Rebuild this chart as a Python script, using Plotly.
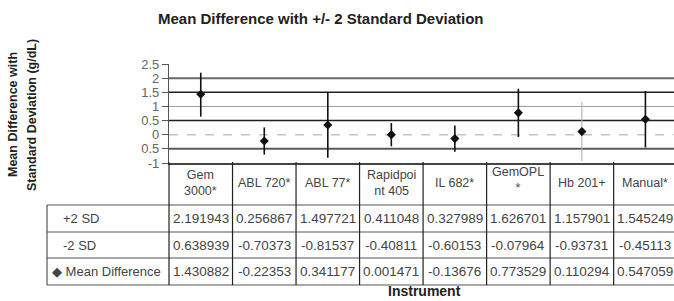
import plotly.graph_objects as go

# ---- data ----
instruments = ["Gem 3000*", "ABL 720*", "ABL 77*", "Rapidpoint 405", "IL 682*", "GemOPL*", "Hb 201+", "Manual*"]
header_labels = ["Gem<br>3000*", "ABL 720*", "ABL 77*", "Rapidpoi<br>nt 405", "IL 682*", "GemOPL<br>*", "Hb 201+", "Manual*"]
plus_2sd = [2.191943, 0.256867, 1.497721, 0.411048, 0.327989, 1.626701, 1.157901, 1.545249]
minus_2sd = [0.638939, -0.70373, -0.81537, -0.40811, -0.60153, -0.07964, -0.93731, -0.45113]
mean_diff = [1.430882, -0.22353, 0.341177, 0.001471, -0.13676, 0.773529, 0.110294, 0.547059]
plus_txt = ["2.191943", "0.256867", "1.497721", "0.411048", "0.327989", "1.626701", "1.157901", "1.545249"]
minus_txt = ["0.638939", "-0.70373", "-0.81537", "-0.40811", "-0.60153", "-0.07964", "-0.93731", "-0.45113"]
mean_txt = ["1.430882", "-0.22353", "0.341177", "0.001471", "-0.13676", "0.773529", "0.110294", "0.547059"]
row_labels = ["+2 SD", "-2 SD", "\u25c6 Mean Difference"]
ref_levels = [2, 1.5, 1, 0.5, 0, -0.5]
y_ticks = [2.5, 2, 1.5, 1, 0.5, 0, -0.5, -1]
y_tick_text = ["2.5", "2", "1.5", "1", "0.5", "0", "0.5", "-1"]
title_text = "Mean Difference with +/- 2 Standard Deviation"
y_title_lines = ["Mean Difference with", "Standard Deviation (g/dL)"]
x_title = "Instrument"

# ---- styles ----
ref_styles = [
    dict(color="#6a6a6a", width=2, dash="solid"),
    dict(color="#202020", width=1.5, dash="solid"),
    dict(color="#9a9a9a", width=1, dash="solid"),
    dict(color="#202020", width=1.5, dash="solid"),
    dict(color="#c4c4c4", width=1.5, dash="dash"),
    dict(color="#5a5a5a", width=2, dash="solid"),
]
FONT = "Liberation Sans, Arial, sans-serif"
TXT = "#444444"

fig = go.Figure()

# error bars as vertical segments
for i, name in enumerate(instruments):
    col = "#aaaaaa" if name == "Hb 201+" else "#111111"
    w = 1 if name == "Hb 201+" else 1.6
    fig.add_trace(go.Scatter(x=[name, name], y=[minus_2sd[i], plus_2sd[i]], mode="lines",
                             line=dict(color=col, width=w), showlegend=False, hoverinfo="skip"))

fig.add_trace(go.Scatter(x=instruments, y=mean_diff, mode="markers",
                         marker=dict(symbol="diamond", size=7, color="#111111"),
                         showlegend=False, name="Mean Difference"))

shapes = []
for lv, st in zip(ref_levels, ref_styles):
    shapes.append(dict(type="line", xref="paper", yref="y", x0=0, x1=1, y0=lv, y1=lv,
                       line=st, layer="below"))

# table geometry (paper coords; plot area 169..674 px, 64..163 px in window)
n = len(instruments)
xr0, xr1 = -0.5, 7.45
def px(i):
    return (i - xr0) / (xr1 - xr0)
def wx(p):
    return (p - 169) / 505.0
def py(p):
    return (163 - p) / 99.0
row_lines = [205, 232, 258, 285]
left_px = wx(47)
for r in row_lines:
    shapes.append(dict(type="line", xref="paper", yref="paper", x0=left_px, x1=1.02,
                       y0=py(r), y1=py(r), line=dict(color="#555555", width=1.2)))
shapes.append(dict(type="line", xref="paper", yref="paper", x0=left_px, x1=left_px,
                   y0=py(205), y1=py(285), line=dict(color="#555555", width=1.2)))
for b in range(n + 1):
    xb = px(b - 0.5)
    shapes.append(dict(type="line", xref="paper", yref="paper", x0=xb, x1=xb,
                       y0=py(162), y1=py(285), line=dict(color="#222222", width=1.2)))

annotations = []
for i in range(n):
    cx = px(i)
    hy = 180 if header_labels[i] == "GemOPL<br>*" else 183
    annotations.append(dict(x=cx, y=py(hy), xref="paper", yref="paper", text=header_labels[i],
                            showarrow=False, font=dict(family=FONT, size=12.5, color=TXT),
                            xanchor="center", yanchor="middle"))
    for txt_list, ry in zip([plus_txt, minus_txt, mean_txt], [218.5, 245, 271.5]):
        annotations.append(dict(x=cx, y=py(ry), xref="paper", yref="paper", text=txt_list[i],
                                showarrow=False, font=dict(family=FONT, size=13.5, color=TXT),
                                xanchor="center", yanchor="middle"))
for lab, lx, ry in zip(row_labels, [61, 61, 50], [218.5, 245, 271.5]):
    annotations.append(dict(x=wx(lx), y=py(ry), xref="paper", yref="paper", text=lab,
                            showarrow=False, font=dict(family=FONT, size=13, color=TXT),
                            xanchor="left", yanchor="middle"))

annotations.append(dict(x=wx(156), y=py(19), xref="paper", yref="paper",
                        text="<b>" + title_text + "</b>", showarrow=False,
                        font=dict(family=FONT, size=15, color="#222222"), xanchor="left", yanchor="middle"))
annotations.append(dict(x=wx(424), y=py(291), xref="paper", yref="paper",
                        text="<b>" + x_title + "</b>", showarrow=False,
                        font=dict(family=FONT, size=14, color="#222222"), xanchor="center", yanchor="middle"))
for line_txt, lx in zip(y_title_lines, [13, 32]):
    annotations.append(dict(x=wx(lx), y=py(115), xref="paper", yref="paper",
                            text="<b>" + line_txt + "</b>", showarrow=False, textangle=-90,
                            font=dict(family=FONT, size=12.5, color="#222222"),
                            xanchor="center", yanchor="middle"))

fig.update_layout(
    width=674, height=301,
    margin=dict(l=169, r=0, t=64, b=138),
    paper_bgcolor="white", plot_bgcolor="white",
    shapes=shapes, annotations=annotations,
    xaxis=dict(type="category", categoryorder="array", categoryarray=instruments,
               range=[xr0, xr1], showticklabels=False, showgrid=False, zeroline=False,
               showline=True, linecolor="#444444", linewidth=1.5, ticks=""),
    yaxis=dict(range=[-1, 2.5], tickvals=y_ticks, ticktext=y_tick_text, showgrid=False,
               zeroline=False, showline=True, linecolor="#555555", linewidth=1.2,
               ticks="outside", ticklen=6, tickcolor="#555555",
               tickfont=dict(family=FONT, size=13, color="#666666")),
    font=dict(family=FONT),
)

# remove the browser's default 8px body margin so the figure fills the window
fig.write_html("out.html", config={"displayModeBar": False},
               post_script="document.body.style.margin='0';document.body.style.overflow='hidden';")
